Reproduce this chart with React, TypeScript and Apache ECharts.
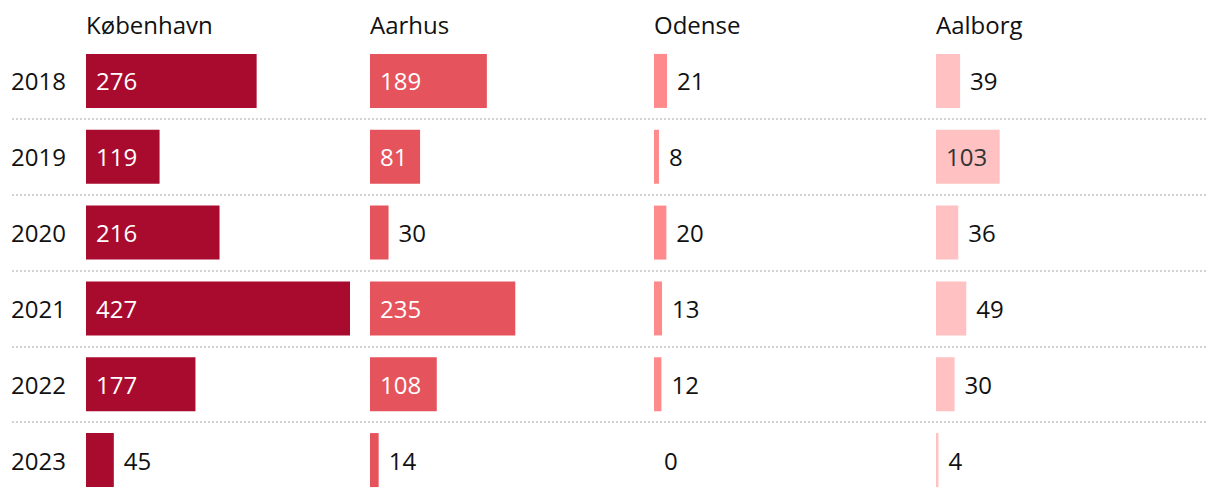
import React, { useEffect, useRef } from "react";
import * as echarts from "echarts";

const years = ["2018", "2019", "2020", "2021", "2022", "2023"];
const cities = ["København", "Aarhus", "Odense", "Aalborg"];
const kobenhavn = [276, 119, 216, 427, 177, 45];
const aarhus = [189, 81, 30, 235, 108, 14];
const odense = [21, 8, 20, 13, 12, 0];
const aalborg = [39, 103, 36, 49, 30, 4];
const seriesValues = [kobenhavn, aarhus, odense, aalborg];

const barColors = ["#a90b2f", "#e5535c", "#ff8a8c", "#ffc1c1"];
const insideLabelColors = ["#ffffff", "#ffffff", "#333333", "#333333"];
const INSIDE_MIN = 60;

const FONT = "'Open Sans', 'Noto Sans', sans-serif";
const FS = 24;
const colLeft = [86, 370, 654, 936];
const colWidth = 264;
const gridTop = 43;
const gridHeight = 456;

export default function App() {
  const ref = useRef<HTMLDivElement>(null);
  useEffect(() => {
    if (!ref.current) return;
    const chart = echarts.init(ref.current, undefined, { renderer: "svg" });
    const maxVal = Math.max(...seriesValues.flat());

    const grids: any[] = colLeft.map((l) => ({
      left: l,
      top: gridTop,
      width: colWidth,
      height: gridHeight,
      containLabel: false,
    }));
    grids.push({ left: 12, top: gridTop, width: 1196, height: gridHeight });

    const xAxes: any[] = colLeft.map((_, i) => ({
      type: "value",
      gridIndex: i,
      min: 0,
      max: maxVal,
      show: false,
    }));
    xAxes.push({ type: "value", gridIndex: 4, min: 0, max: 1, show: false });

    const yAxes: any[] = colLeft.map((_, i) => ({
      type: "category",
      gridIndex: i,
      data: years,
      inverse: true,
      axisLine: { show: false },
      axisTick: { show: false },
      splitLine: { show: false },
      axisLabel: {
        show: i === 0,
        align: "left",
        margin: 75,
        fontFamily: FONT,
        fontSize: FS,
        color: "#111111",
      },
    }));
    yAxes.push({
      type: "value",
      gridIndex: 4,
      min: 0,
      max: years.length,
      interval: 1,
      inverse: true,
      axisLine: { show: false },
      axisTick: { show: false },
      axisLabel: { show: false },
      splitLine: {
        show: true,
        showMinLine: false,
        showMaxLine: false,
        lineStyle: { color: "#d2d2d2", width: 2, type: [2, 2] },
      },
    });

    const series: any[] = seriesValues.map((vals, i) => ({
      type: "bar",
      xAxisIndex: i,
      yAxisIndex: i,
      barWidth: 54,
      silent: true,
      itemStyle: { color: barColors[i] },
      data: vals.map((v) => {
        const inside = v >= INSIDE_MIN;
        return {
          value: v,
          label: {
            show: true,
            position: inside ? "insideLeft" : "right",
            distance: 10,
            color: inside ? insideLabelColors[i] : "#111111",
            fontFamily: FONT,
            fontSize: FS,
          },
        };
      }),
    }));

    const titles = cities.map((c, i) => ({
      text: c,
      left: colLeft[i],
      top: 12,
      padding: 0,
      textStyle: {
        fontFamily: FONT,
        fontSize: FS,
        fontWeight: "normal",
        color: "#111111",
      },
    }));

    chart.setOption({
      animation: false,
      backgroundColor: "#ffffff",
      title: titles,
      grid: grids,
      xAxis: xAxes,
      yAxis: yAxes,
      series,
    });
    return () => chart.dispose();
  }, []);

  return (
    <div
      ref={ref}
      style={{ position: "fixed", left: 0, top: 0, width: 1220, height: 498 }}
    />
  );
}
